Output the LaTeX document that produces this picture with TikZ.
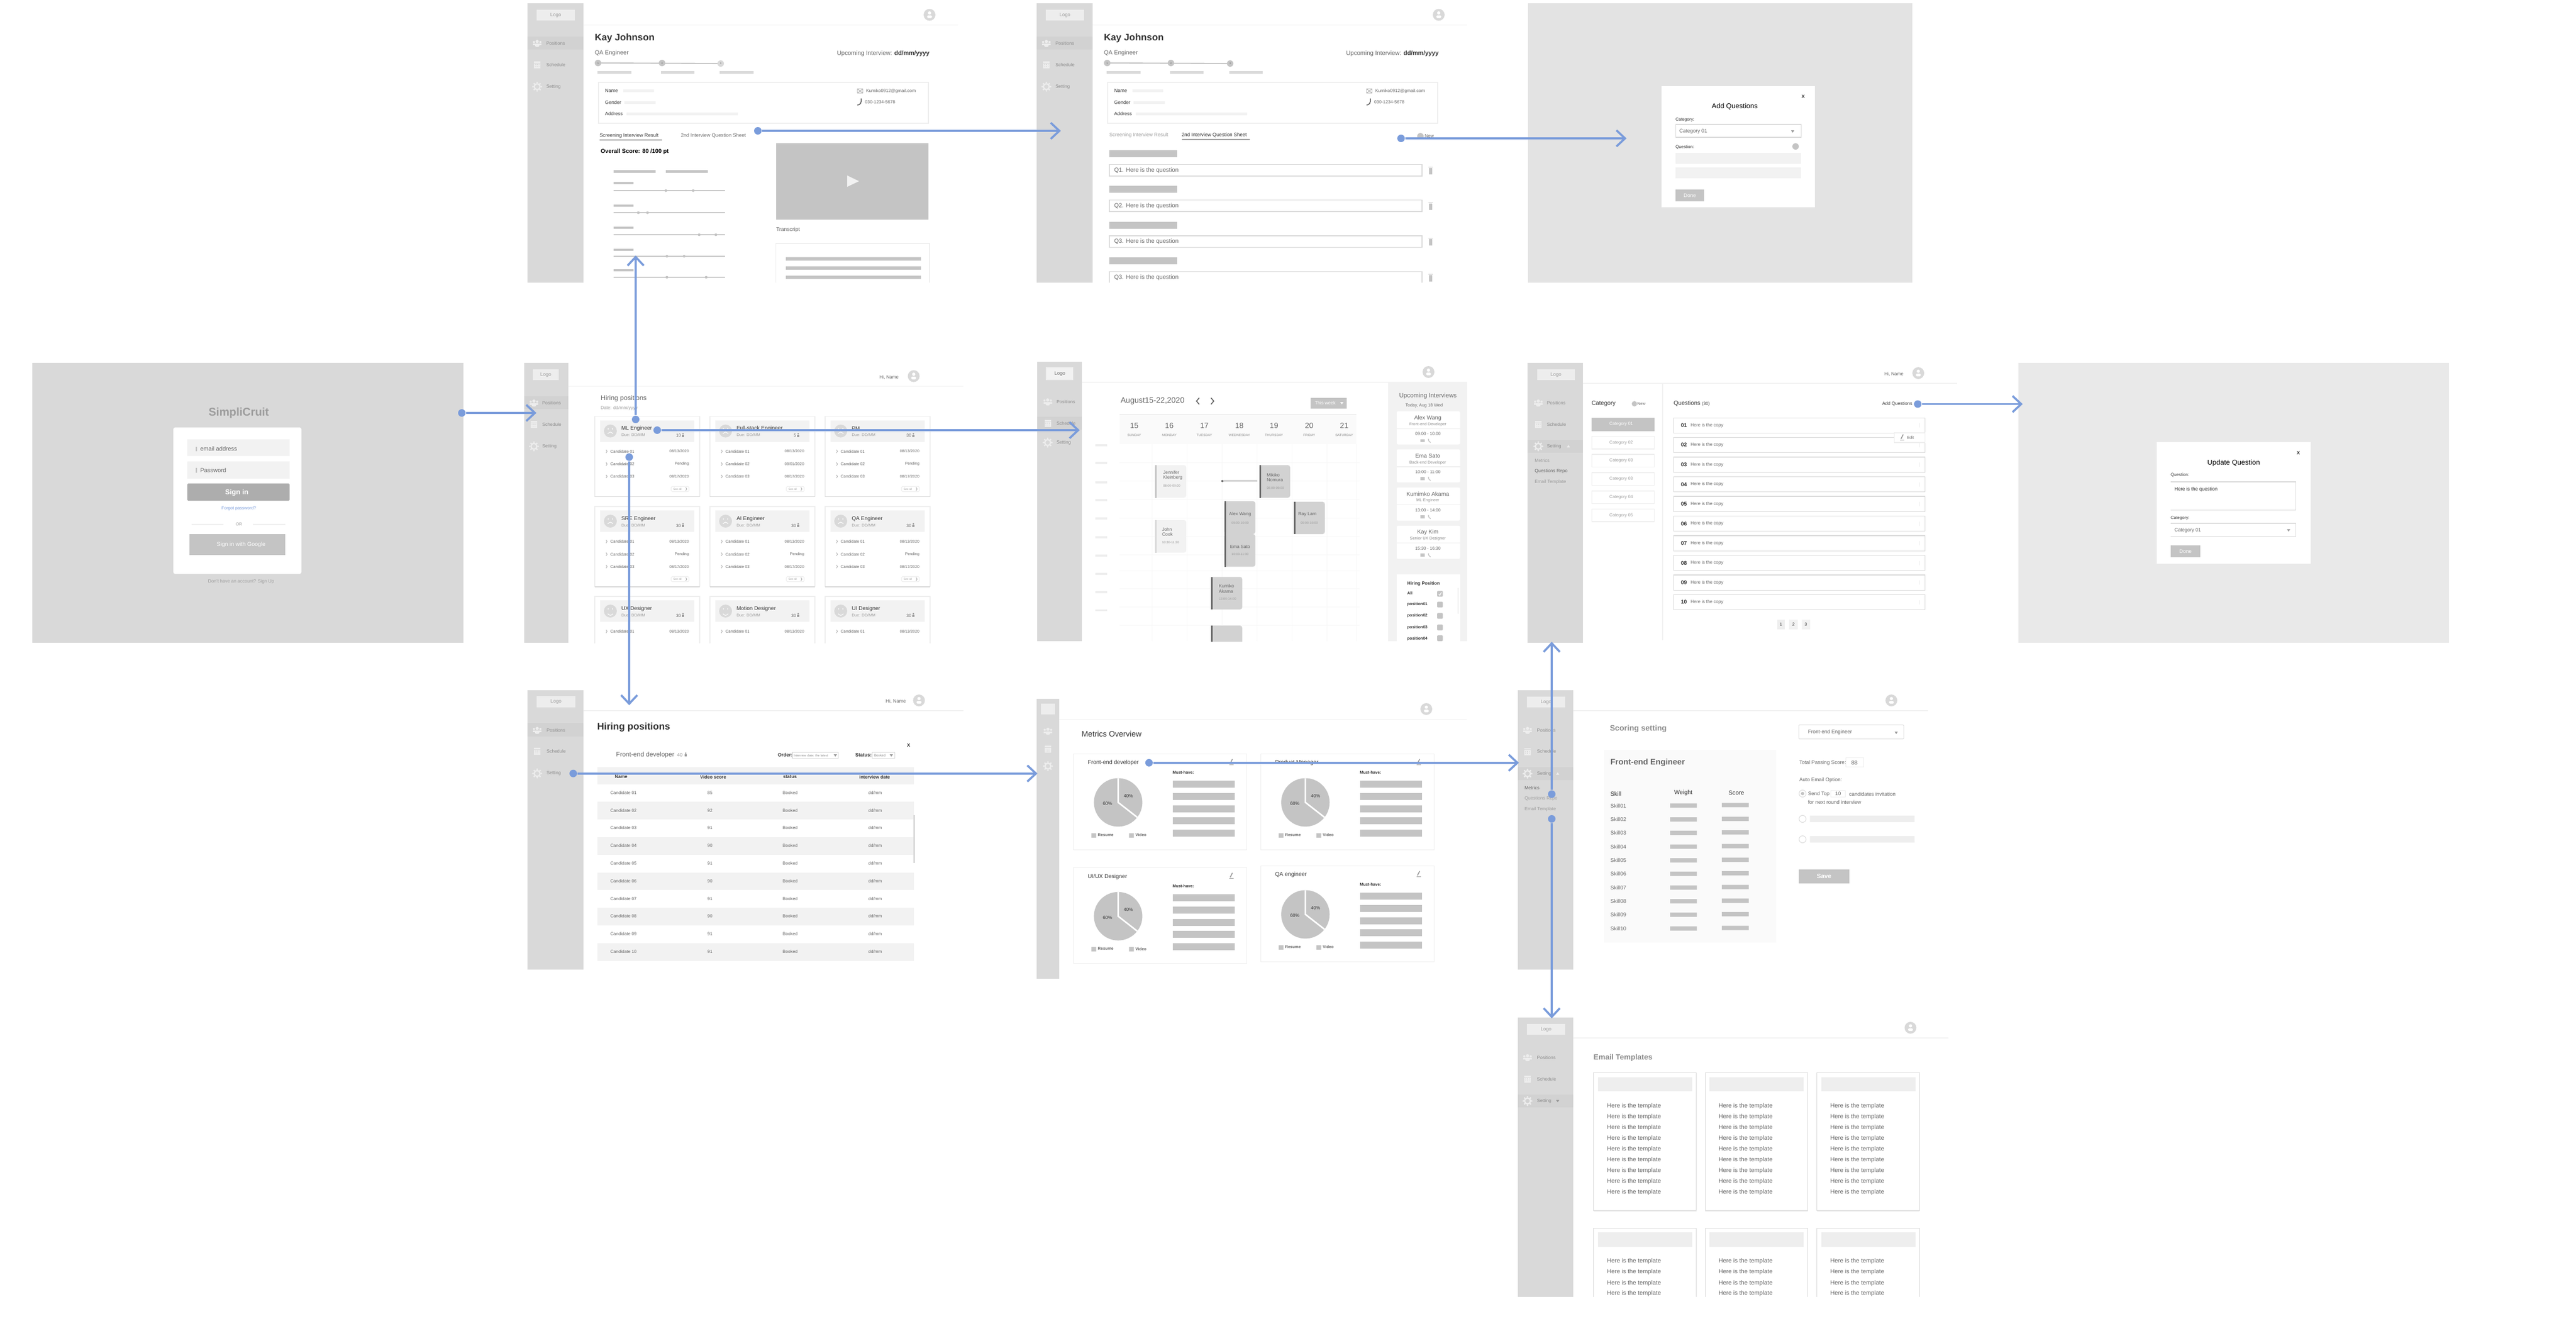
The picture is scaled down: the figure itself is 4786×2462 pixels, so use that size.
\documentclass[tikz,border=0pt]{standalone}
\usepackage{fontspec}
\setmainfont{Liberation Sans}
\usetikzlibrary{arrows.meta}

\definecolor{linkcol}{HTML}{7A9CDB}
\definecolor{sidecol}{HTML}{D9D9D9}
\definecolor{hicol}{HTML}{D2D2D2}
\definecolor{barcol}{HTML}{C4C4C4}
\definecolor{softcol}{HTML}{F2F2F2}
\definecolor{linecol}{HTML}{EEEEEE}
\definecolor{iconcol}{HTML}{EDEDED}
\definecolor{inkcol}{HTML}{333333}
\definecolor{dimcol}{HTML}{666666}
\definecolor{palecol}{HTML}{9C9C9C}
\definecolor{menucol}{HTML}{8C8C8C}

\newcounter{tx}
\newcommand{\fs}[1]{\pgfmathsetmacro{\fsval}{#1*0.2845}\fontsize{\fsval}{\fsval}\selectfont}
\newcommand{\lbl}[3][]{\stepcounter{tx}\node[txt_style,#1] (t\arabic{tx}) at (#2) {#3};}
\newcommand{\sidebar}[4]{\fill[side_style] (#1,#2) rectangle (#3,#4);}
\newcommand{\logobox}[5]{\fill[logo_style] (#1,#2) rectangle (#3,#4);
	\lbl[fz=9,mid_style,text=palecol]{{(#1+#3)/2},{(#2+#4)/2}}{#5}}
\newcommand{\avatar}[2]{\fill[fill=sidecol] (#1,#2) circle (11);
	\fill[white] (#1,#2-3.5) circle (3);
	\fill[white,rounded corners=.5pt] (#1-4.5,#2+1) rectangle (#1+4.5,#2+6);}
\newcommand{\iconpeople}[2]{\fill[icon_style] (#1,#2-3) circle (3) (#1-6,#2-2) circle (2) (#1+6,#2-2) circle (2);
	\fill[icon_style,rounded corners=.5pt] (#1-4,#2+1) rectangle (#1+4,#2+7);
	\fill[icon_style] (#1-8,#2+1) rectangle (#1+8,#2+4);}
\newcommand{\iconcal}[2]{\fill[icon_style] (#1-6,#2-6) rectangle (#1+6,#2+7);
	\foreach \pa in {-3.5,0,3.5} \foreach \pb in {0,3.5} \fill[side_style] (#1+\pa-.9,#2+\pb-.9) rectangle (#1+\pa+.9,#2+\pb+.9);
	\fill[side_style] (#1-6,#2-3.5) rectangle (#1+6,#2-2.6);}
\newcommand{\icongear}[2]{\draw[icon_style,draw=iconcol,fill=none,line width=.7pt] (#1,#2) circle (5.5);
	\foreach \pa in {0,45,...,315} \fill[icon_style] (#1,#2) ++(\pa:7.8) circle (1.7);}
\newcommand{\menuitems}[5]{\iconpeople{#1}{#3}\iconcal{#1}{#4}\icongear{#1}{#5}
	\lbl[fz=8.5,text=menucol]{#2,#3}{Positions}
	\lbl[fz=8.5,text=menucol]{#2,#4}{Schedule}
	\lbl[fz=8.5,text=menucol]{#2,#5}{Setting}}
\newcommand{\tridown}[2]{\fill[tri_style] (#1-3,#2-2) -- (#1+3,#2-2) -- (#1,#2+2.5) -- cycle;}
\newcommand{\triup}[2]{\fill[icon_style] (#1-3,#2+2) -- (#1+3,#2+2) -- (#1,#2-2.5) -- cycle;}
\newcommand{\chev}[2]{\draw[chev_style] (#1-1,#2-3) -- (#1+1,#2) -- (#1-1,#2+3);}
\newcommand{\pencil}[2]{\draw[pencil_style] (#1-2,#2+3) -- (#1+2,#2-5);
	\draw[chev_style] (#1-4,#2+5) -- (#1+4,#2+5);}
\newcommand{\trash}[2]{\fill[tri_style,fill=barcol] (#1-3,#2-5) rectangle (#1+3,#2+7);
	\fill[tri_style,fill=barcol] (#1-4,#2-7) rectangle (#1+4,#2-6);}
\newcommand{\person}[2]{\fill[fill=palecol] (#1,#2-3) circle (1.6);
	\fill[fill=palecol] (#1-2,#2-1) rectangle (#1+2,#2+3);}
% Kay Johnson screen, drawn at the place of the first one
\newcommand{\profile}{
	\sidebar{980}{6}{1084}{525}
	\logobox{997}{18}{1068}{38}{Logo}
	\fill[hi_style] (980,68) rectangle (1084,92);
	\menuitems{998}{1015}{80}{120}{161}
	\draw[head_style] (1084,46.5) -- (1780,46.5);
	\avatar{1727}{27.5}
	\lbl[fb=17.7,text=inkcol]{1105,71}{Kay Johnson}
	\lbl[fz=11,text=dimcol]{1105,99}{QA Engineer}
	\lbl[fz=11.3,right_style,text=dimcol]{1727,100}{Upcoming Interview: \textcolor{inkcol}{\bfseries dd/mm/yyyy}}
	\draw[box_style] (1112,153) rectangle (1725,229);
	\lbl[fz=9,text=inkcol]{1124,168}{Name}
	\lbl[fz=9,text=inkcol]{1124,190}{Gender}
	\lbl[fz=9,text=inkcol]{1124,211}{Address}
	\fill[soft_style] (1158,166) rectangle (1215,171) (1160,188) rectangle (1218,193) (1164,209) rectangle (1371,214);
	\draw[chev_style,fill=none] (1593,165) rectangle (1603,173) (1593,165) -- (1603,173) (1603,165) -- (1593,173);
	\lbl[fz=8.3,text=dimcol]{1609,169}{Kumiko0912@gmail.com}
	\draw[pencil_style,draw=dimcol] (1600,183) .. controls (1601,191) and (1598,195) .. (1593,195);
	\lbl[fz=8.3,text=dimcol]{1607,190}{030-1234-5678}
}
% position card, the head and its first row
\newcommand{\poscard}[5]{
	\begin{scope}[shift={(#1,#2)}]
		\draw[box_style,fill=white] (0,0) rectangle (195,148.8);
		\draw[shade_style] (0,148.8) -- (195,148.8);
		\fill[soft_style] (10,7.4) rectangle (185,47.4);
		\fill[fill=sidecol] (29,27) circle (12);
		\fill[white] (25,23) circle (1.2) (33,23) circle (1.2);
		\draw[white,line width=.3pt] (24,32) .. controls (29,#5) .. (34,32);
		\lbl[fz=10,text=inkcol]{49.5,22.4}{#3}
		\lbl[fz=7.5,text=palecol]{49.5,34.4}{Due: DD/MM}
		\lbl[fz=8,right_style,text=dimcol]{160,35.4}{#4}
		\person{164}{35}
		\chev{22}{64.8}
		\lbl[fz=7.5,text=dimcol]{29,64.8}{Candidate 01}
		\lbl[fz=7.2,right_style,text=dimcol]{175,64.8}{08/13/2020}
	\end{scope}
}
\newcommand{\cardrows}[4]{
	\begin{scope}[shift={(#1,#2)}]
		\chev{22}{88.4}
		\lbl[fz=7.5,text=dimcol]{29,88.4}{Candidate 02}
		\lbl[fz=7.2,right_style,text=dimcol]{175,88.4}{#3}
		\chev{22}{111.4}
		\lbl[fz=7.5,text=dimcol]{29,111.4}{Candidate 03}
		\lbl[fz=7.2,right_style,text=dimcol]{175,111.4}{#4}
		\draw[box_style,fill=white,rounded corners=.5pt] (142,130) rectangle (175,139.4);
		\lbl[fz=5,text=palecol]{146,134.7}{See all}
		\chev{170}{134.7}
	\end{scope}
}
\newcommand{\metric}[3]{
	\begin{scope}[shift={(#1,#2)}]
		\draw[box_style] (0,0) rectangle (322,178.5);
		\lbl[fz=10.5,text=inkcol]{26.4,17}{#3}
		\pencil{293}{15}
		\lbl[fb=7.5,text=inkcol]{184,34.6}{Must-have:}
		\foreach \pa in {50,72.5,95.7,118,141} \fill[bar_style] (184,\pa) rectangle (299,\pa+13);
		\fill[bar_style] (82.7,90.4) circle (45);
		\draw[white,line width=.8pt] (82.7,45.4) -- (82.7,90.4) -- (118.2,118.1);
		\lbl[fz=8.5,mid_style,text=inkcol]{101.6,78.6}{40\%}
		\lbl[fz=8.5,mid_style,text=inkcol]{63,93}{60\%}
		\fill[bar_style] (33,147.5) rectangle (42,156) (103,147.5) rectangle (112,156);
		\lbl[fb=7.5,text=dimcol]{45,151}{Resume}
		\lbl[fb=7.5,text=dimcol]{115,151}{Video}
	\end{scope}
}

\begin{document}
\begin{tikzpicture}[x=0.01cm, y=-0.01cm,
		txt_style/.style={anchor=west,inner sep=0pt,outer sep=0pt},
		mid_style/.style={anchor=center},
		right_style/.style={anchor=east},
		fz/.style={font=\fs{#1}},
		fb/.style={font=\fs{#1}\bfseries},
		side_style/.style={fill=sidecol},
		hi_style/.style={fill=hicol},
		logo_style/.style={fill=iconcol},
		icon_style/.style={fill=iconcol},
		bar_style/.style={fill=barcol},
		soft_style/.style={fill=softcol},
		tri_style/.style={fill=palecol},
		box_style/.style={draw=linecol,line width=.3pt},
		row_style/.style={draw=black!15,line width=.3pt},
		grid_style/.style={draw=black!3,line width=.2pt},
		shade_style/.style={draw=sidecol,line width=.5pt},
		head_style/.style={draw=softcol,line width=.4pt},
		chev_style/.style={draw=palecol,line width=.2pt},
		pencil_style/.style={draw=palecol,line width=.5pt},
		dot_style/.style={circle,fill=linkcol,inner sep=0pt,minimum size=.14cm},
		edge_style/.style={draw=linkcol,line width=1.1pt,-{Straight Barb[length=.16cm,width=.3cm]}}]
	\useasboundingbox (0,0) rectangle (4786,2462);

	% screen with the interview result
	\profile
	\draw[draw=barcol,line width=.6pt] (1111,117) -- (1339,118);
	\fill[fill=barcol] (1111,117) circle (6) (1230,117) circle (6);
	\fill[fill=sidecol] (1339,118) circle (6);
	\foreach \pn/\px in {1/1111,2/1230,3/1339} {\lbl[fz=4.5,mid_style,text=dimcol]{\px,117.5}{\pn}}
	\fill[fill=sidecol] (1110,132) rectangle (1173,137) (1228,132) rectangle (1290,137) (1337,132) rectangle (1400,137);
	\lbl[fz=9.2,text=inkcol]{1114,252}{Screening Interview Result}
	\draw[chev_style,line width=.4pt] (1114,260) -- (1230,260);
	\lbl[fz=9.2,text=dimcol]{1265,252}{2nd Interview Question Sheet}
	\lbl[fb=10.8,text=black]{1116,282}{Overall Score: 80 /100 pt}
	\fill[bar_style] (1140,316) rectangle (1218,321) (1237,316) rectangle (1315,321);
	\foreach \pb/\pl/\pc/\pd in {340/354/1237/1288,382/395/1186/1203,423/436/1299/1330,464/476/1239/1271,502/515/1239/1312} {
		\fill[bar_style] (1140,\pb-2) rectangle (1177,\pb+2);
		\draw[draw=barcol,line width=.4pt] (1140,\pl) -- (1347,\pl);
		\fill[bar_style] (\pc,\pl) circle (2.5) (\pd,\pl) circle (2.5);
	}
	\fill[bar_style] (1442,265.5) rectangle (1725,408);
	\fill[fill=softcol] (1574,326) -- (1596,336.5) -- (1574,347) -- cycle;
	\lbl[fz=10,text=dimcol]{1442,427}{Transcript}
	\draw[box_style] (1441.5,525) -- (1441.5,452) -- (1727,452) -- (1727,525);
	\fill[bar_style] (1460,477.6) rectangle (1711,484) (1460,494.5) rectangle (1711,501) (1460,512) rectangle (1711,518);

	% screen with the question sheet
	\begin{scope}[shift={(946,0)}]
		\profile
	\end{scope}
	\draw[draw=barcol,line width=.6pt] (2057,117) -- (2285.5,118);
	\fill[fill=barcol] (2057,117) circle (6) (2175.5,117) circle (6) (2285.5,118) circle (6);
	\foreach \pn/\px in {1/2057,2/2175.5,3/2285.5} {\lbl[fz=4.5,mid_style,text=dimcol]{\px,117.5}{\pn}}
	\fill[fill=sidecol] (2056,132) rectangle (2119,137) (2174,132) rectangle (2236,137) (2284,132) rectangle (2346,137);
	\lbl[fz=9.2,text=palecol]{2061,251}{Screening Interview Result}
	\lbl[fz=9.2,text=inkcol]{2195.6,251}{2nd Interview Question Sheet}
	\draw[chev_style,line width=.4pt] (2195.6,259) -- (2322,259);
	\fill[fill=barcol] (2639,253) circle (6);
	\lbl[fz=8.5,text=dimcol]{2647,253}{New}
	\foreach \pb/\pq/\pn in {279/305.5/Q1,345/371.5/Q2,411.5/438/Q3} {
		\fill[bar_style] (2061,\pb) rectangle (2187,\pb+13);
		\draw[box_style,draw=sidecol] (2061,\pq) rectangle (2642,\pq+21.5);
		\lbl[fz=11,text=dimcol]{2070,\pq+11}{\pn. Here is the question}
		\trash{2658}{\pq+11}
	}
	\fill[bar_style] (2061,478) rectangle (2187,491);
	\draw[box_style,draw=sidecol] (2061,525) -- (2061,504.5) -- (2642,504.5) -- (2642,525);
	\lbl[fz=11,text=dimcol]{2070,516}{Q3. Here is the question}
	\trash{2658}{516}

	% add questions dialog
	\fill[fill=softcol!40!sidecol] (2838.6,6) rectangle (3553,525);
	\fill[white] (3086.5,159.5) rectangle (3371.6,385);
	\lbl[fb=9,mid_style,text=inkcol]{3350,179.5}{X}
	\lbl[fz=13,mid_style,text=black]{3223,198}{Add Questions}
	\lbl[fz=8,text=inkcol]{3113,222.5}{Category:}
	\draw[row_style] (3113,231) rectangle (3346,255);
	\lbl[fz=9.5,text=dimcol]{3120,244}{Category 01}
	\tridown{3330.6}{244}
	\lbl[fz=8,text=inkcol]{3113,273}{Question:}
	\fill[fill=barcol] (3336,272) circle (6);
	\fill[soft_style] (3113,284) rectangle (3346,304.4) (3113,311) rectangle (3346,331);
	\fill[bar_style] (3113,352) rectangle (3166,374);
	\lbl[fz=9.5,mid_style,text=white]{3139.5,363}{Done}

	% login
	\fill[side_style] (60,674) rectangle (860.5,1194);
	\lbl[fb=21,mid_style,text=palecol]{443.7,767.5}{SimpliCruit}
	\fill[white,rounded corners=1pt] (322,794) rectangle (560,1066);
	\fill[soft_style] (348,816) rectangle (538,847) (348,857) rectangle (538,889);
	\fill[fill=barcol] (363.6,830) rectangle (366,838) (363.6,869) rectangle (366,878);
	\lbl[fz=11,text=dimcol]{372,834}{email address}
	\lbl[fz=11,text=dimcol]{372,873.5}{Password}
	\fill[fill=black!32,rounded corners=.5pt] (348,898) rectangle (538,930);
	\lbl[fb=13,mid_style,text=white]{440,915}{Sign in}
	\lbl[fz=8,mid_style,text=linkcol]{443.7,944.6}{Forgot password?}
	\fill[soft_style,fill=linecol] (356,973) rectangle (415,975) (470,973) rectangle (530,975);
	\lbl[fz=8,mid_style,text=palecol]{444,974}{OR}
	\fill[bar_style] (351.5,992) rectangle (530,1031);
	\lbl[fz=10.5,mid_style,text=white]{448,1012}{Sign in with Google}
	\lbl[fz=8.5,mid_style,text=palecol]{448,1080.5}{Don't have an account? Sign Up}

	% positions overview
	\sidebar{973.5}{674}{1056}{1194}
	\logobox{990}{686}{1038}{706}{Logo}
	\fill[hi_style] (973.5,736) rectangle (1056,760);
	\menuitems{992}{1007.5}{748}{788}{829}
	\draw[head_style] (1056,717.5) -- (1790,717.5);
	\lbl[fz=8.5,text=dimcol]{1634,700.6}{Hi, Name}
	\avatar{1697.6}{698.6}
	\lbl[fz=12.5,text=dimcol]{1116,740}{Hiring positions}
	\lbl[fz=8.5,text=palecol]{1116,758}{Date: dd/mm/yyyy}
	\poscard{1105}{773.6}{ML Engineer}{10}{28}
	\poscard{1319}{773.6}{Full-stack Engineer}{5}{28}
	\poscard{1533}{773.6}{PM}{30}{28}
	\cardrows{1105}{773.6}{Pending}{08/17/2020}
	\cardrows{1319}{773.6}{09/01/2020}{08/17/2020}
	\cardrows{1533}{773.6}{Pending}{08/17/2020}
	\poscard{1105}{941}{SRE Engineer}{30}{28}
	\poscard{1319}{941}{AI Engineer}{30}{28}
	\poscard{1533}{941}{QA Engineer}{30}{28}
	\foreach \px in {1105,1319,1533} {\cardrows{\px}{941}{Pending}{08/17/2020}}
	\begin{scope}
		\clip (1100,1100) rectangle (1735,1194);
		\poscard{1105}{1108}{UX Designer}{30}{36}
		\poscard{1319}{1108}{Motion Designer}{30}{36}
		\poscard{1533}{1108}{UI Designer}{30}{36}
	\end{scope}

	% schedule
	\sidebar{1927}{672}{2010}{1191}
	\draw[box_style,fill=softcol] (1944,683) rectangle (1993.6,705);
	\lbl[fz=9,mid_style,text=dimcol]{1969,694}{Logo}
	\fill[hi_style] (1927,774) rectangle (2010,798);
	\menuitems{1946.5}{1963}{746}{786}{822}
	\draw[head_style] (2010,710) -- (2726,710);
	\avatar{2654}{691}
	\fill[soft_style] (2579,710) rectangle (2726,1191);
	\lbl[fz=14.5,text=dimcol]{2082,745}{August15-22,2020}
	\draw[pencil_style,draw=dimcol] (2228,739) -- (2223,745) -- (2228,751) (2250,739) -- (2255,745) -- (2250,751);
	\fill[bar_style] (2435,738.5) rectangle (2502,759);
	\lbl[fz=8.5,text=white]{2443,748.5}{This week}
	\fill[white] (2490,747) -- (2496,747) -- (2493,751) -- cycle;
	\fill[fill=black!2] (2080,770) rectangle (2520,825);
	\draw[box_style] (2080,770) -- (2520,770);
	\foreach \pd/\pn/\px in {15/SUNDAY/2107.4,16/MONDAY/2172.5,17/TUESDAY/2237.6,18/WEDNESDAY/2302.7,19/THURSDAY/2367,20/FRIDAY/2432.4,21/SATURDAY/2497.5} {
		\lbl[fz=14,mid_style,text=dimcol]{\px,791}{\pd}
		\lbl[fz=6.2,mid_style,text=menucol]{\px,808}{\pn}
	}
	\foreach \py in {827,860,896,929,963,998,1032,1066,1100,1133.5} \fill[fill=linecol] (2035,\py-1.7) rectangle (2056.6,\py+1.7);
	\foreach \py in {859,893.5,927,962,996,1030,1060,1093.5,1127,1161} \draw[grid_style] (2080,\py) -- (2526,\py);
	\foreach \px in {2140.7,2205,2270,2335.6,2400.7,2465,2520} \draw[grid_style] (\px,825) -- (\px,1191);
	\foreach \pa/\pb/\pc/\pd/\pf/\pg in {2145.5/864/2204/924.5/softcol/barcol,2145.5/966/2204/1026.7/softcol/sidecol,2340/864/2397/924.5/hicol/dimcol,2274.7/931/2332.4/992/hicol/dimcol,2274.7/992/2332.4/1052.6/hicol/dimcol,2404/932/2461.5/992/hicol/dimcol,2250/1071.5/2308/1132/hicol/dimcol} {
		\fill[fill=\pf,rounded corners=1.2pt] (\pa,\pb) rectangle (\pc,\pd);
		\fill[fill=\pg] (\pa,\pb) rectangle (\pa+3,\pd);
	}
	\begin{scope}
		\clip (2240,1150) rectangle (2320,1191);
		\fill[fill=hicol,rounded corners=1.2pt] (2250,1162) rectangle (2308,1230);
		\fill[fill=dimcol] (2250,1162) rectangle (2253,1230);
	\end{scope}
	\foreach \px/\py/\pn in {2161/877.6/Jennifer,2161/887/Kleinberg,2353.5/882/Mikiko,2353.5/892/Nomura,2159/983/John,2159/992.6/Cook,2264.6/1088.7/Kumiko,2264.6/1098/Akama} {\lbl[fz=8.5,text=dimcol]{\px,\py}{\pn}}
	\foreach \px/\py/\pn in {2161/902/08:00-09:00,2353.5/906/08:00-09:00,2159/1007/10:30-11:30,2264.6/1112.5/13:00-14:00} {\lbl[fz=6,text=palecol]{\px,\py}{\pn}}
	\lbl[fz=8.5,mid_style,text=dimcol]{2304,955.5}{Alex Wang}
	\lbl[fz=6,mid_style,text=palecol]{2304,971.6}{09:00-10:00}
	\lbl[fz=8.5,mid_style,text=dimcol]{2304,1016}{Ema Sato}
	\lbl[fz=6,mid_style,text=palecol]{2304,1029}{10:00-11:00}
	\lbl[fz=8.5,mid_style,text=dimcol]{2429,955.5}{Ray Lam}
	\lbl[fz=6,mid_style,text=palecol]{2432.4,971.6}{09:00-10:00}
	\fill[fill=dimcol] (2271,893.5) circle (2);
	\draw[draw=dimcol,line width=.2pt] (2271,893.5) -- (2335.6,893.5);
	\lbl[fz=11.5,mid_style,text=dimcol]{2653,735.5}{Upcoming Interviews}
	\lbl[fz=8,mid_style,text=dimcol]{2646,753}{Today, Aug 18 Wed}
	\foreach \py/\pn/\pr/\pt in {764/Alex Wang/Front-end Developer/09:00 - 10:00,834.6/Ema Sato/Back-end Developer/10:00 - 11:00,905.5/Kumimko Akama/ML Engineer/13:00 - 14:00,976.5/Kay Kim/Senior UX Designer/15:30 - 16:30} {
		\fill[white,rounded corners=.7pt] (2595,\py) rectangle (2712.5,\py+61.5);
		\lbl[fz=10.5,mid_style,text=dimcol]{2652.7,\py+12.4}{\pn}
		\lbl[fz=7.5,mid_style,text=menucol]{2652.7,\py+24.5}{\pr}
		\draw[box_style] (2595,\py+32.4) -- (2712.5,\py+32.4);
		\lbl[fz=8,mid_style,text=dimcol]{2653,\py+42}{\pt}
		\fill[fill=barcol] (2639,\py+51.5) rectangle (2646.5,\py+57);
		\draw[draw=barcol,line width=.4pt] (2654,\py+51) .. controls (2654,\py+55) .. (2658,\py+58);
	}
	\fill[white] (2595,1067.4) rectangle (2712.5,1191);
	\lbl[fb=8.5,text=inkcol]{2614.6,1084}{Hiring Position}
	\foreach \py/\pn in {1102/All,1123/position01,1144/position02,1165.5/position03,1186.5/position04} {
		\lbl[fb=7.5,text=inkcol]{2614.6,\py}{\pn}
	}
	\foreach \py in {1103,1123,1144,1165.5,1185.5} \fill[bar_style,rounded corners=.4pt] (2670,\py-5.4) rectangle (2680.7,\py+5.4);
	\draw[draw=white,line width=.3pt] (2673,1103) -- (2675,1106) -- (2678,1100);
	\fill[fill=linecol] (2708,1092) rectangle (2710,1140);

	% questions repository
	\sidebar{2838}{674}{2941}{1194}
	\logobox{2856}{686}{2925.5}{706}{Logo}
	\fill[hi_style] (2838,817) rectangle (2941,841);
	\menuitems{2858}{2874}{748}{788}{829}
	\triup{2914}{829}
	\lbl[fz=8.5,text=palecol]{2851.4,855}{Metrics}
	\lbl[fz=8.5,text=dimcol]{2851.4,875}{Questions Repo}
	\lbl[fz=8.5,text=palecol]{2851.4,895}{Email Template}
	\draw[head_style] (2941,712) -- (3636,712);
	\lbl[fz=8.5,text=dimcol]{3501,695}{Hi, Name}
	\avatar{3564}{693}
	\draw[head_style] (3089,713) -- (3089,1188.6);
	\lbl[fz=11,text=inkcol]{2957,749.5}{Category}
	\fill[fill=barcol] (3036.6,750) circle (5);
	\lbl[fz=7.5,text=dimcol]{3042,750}{New}
	\fill[bar_style] (2957,776) rectangle (3073.6,800.5);
	\lbl[fz=8,mid_style,text=white]{3012,788}{Category 01}
	\foreach \py/\pn in {810.5/02,844/03,878/03,912/04,945.5/05} {
		\draw[box_style] (2957,\py) rectangle (3073.6,\py+23.5);
		\lbl[fz=8,mid_style,text=palecol]{3012,\py+12}{Category \pn}
	}
	\lbl[fz=11,text=inkcol]{3109.6,749.5}{Questions \fs{8}(30)}
	\lbl[fz=8.5,text=inkcol]{3497,750}{Add Questions}
	\foreach \py/\pn in {776.4/01,812.5/02,849/03,885.6/04,922/05,958.6/06,995/07,1031.6/08,1068/09,1104.5/10} {
		\draw[row_style] (3109.6,\py) rectangle (3576.5,\py+28.3);
		\lbl[fb=10,text=inkcol]{3123,\py+14}{\pn}
		\lbl[fz=8.4,text=dimcol]{3141,\py+14}{Here is the copy}
		\fill[fill=linecol] (3565.5,\py+10) rectangle (3566.5,\py+18);
	}
	\fill[white] (3519,804) rectangle (3576.5,822);
	\draw[box_style] (3519,804) rectangle (3576.5,822);
	\pencil{3534}{812}
	\lbl[fz=7.5,text=dimcol]{3543,813}{Edit}
	\fill[fill=linecol] (3301.5,1151) rectangle (3316,1169);
	\fill[soft_style] (3324,1151) rectangle (3340,1169) (3347.5,1151) rectangle (3363,1169);
	\foreach \pn/\px in {1/3308.7,2/3332,3/3355} {\lbl[fz=8,mid_style,text=inkcol]{\px,1160}{\pn}}

	% update question dialog
	\fill[fill=softcol!65!sidecol] (3750.4,674) rectangle (4549.5,1194);
	\fill[white] (4007,821) rectangle (4292.5,1047);
	\lbl[fb=9,mid_style,text=inkcol]{4270,841.5}{X}
	\lbl[fz=13,mid_style,text=black]{4150,860}{Update Question}
	\lbl[fz=8,text=inkcol]{4033,882.5}{Question:}
	\draw[row_style] (4033,895) -- (4265.5,895) -- (4265.5,947.5) -- (4033,947.5);
	\lbl[fz=9,text=inkcol]{4040,909.6}{Here is the question}
	\lbl[fz=8,text=inkcol]{4033,963}{Category:}
	\draw[row_style] (4033,972) -- (4265.5,972) -- (4265.5,996.5) -- (4033,996.5);
	\lbl[fz=9,text=dimcol]{4040,985.4}{Category 01}
	\tridown{4252}{985}
	\fill[bar_style] (4033,1013) rectangle (4088,1035);
	\lbl[fz=9.5,mid_style,text=white]{4060.5,1024}{Done}

	% candidates of one position
	\sidebar{980}{1282}{1084}{1801}
	\logobox{997}{1293}{1069}{1314}{Logo}
	\fill[hi_style] (980,1343) rectangle (1084,1368);
	\menuitems{998}{1015.6}{1356}{1395}{1436.7}
	\draw[head_style] (1084,1320) -- (1790,1320);
	\lbl[fz=9,text=dimcol]{1645.7,1303}{Hi, Name}
	\avatar{1707.4}{1301}
	\lbl[fb=17.8,text=inkcol]{1109.5,1350.6}{Hiring positions}
	\lbl[fz=12,text=dimcol]{1144.7,1402}{Front-end developer}
	\lbl[fz=9,text=menucol]{1258,1402}{40}
	\person{1274}{1402}
	\lbl[fb=9,text=inkcol]{1445,1402}{Order:}
	\draw[box_style,draw=sidecol] (1472,1397.4) rectangle (1557.5,1408.4);
	\lbl[fz=5.8,text=menucol]{1475,1403}{Interview date: the latest}
	\tridown{1552}{1403}
	\lbl[fb=9,text=inkcol]{1589,1402}{Status:}
	\draw[box_style,draw=sidecol] (1620.7,1397.4) rectangle (1662.6,1408.4);
	\lbl[fz=6.3,text=menucol]{1624,1403}{Booked}
	\tridown{1656}{1403}
	\lbl[fb=9,mid_style,text=inkcol]{1688,1384}{X}
	\fill[soft_style] (1109.5,1425) rectangle (1697.7,1456.6);
	\foreach \pb in {1489,1555,1620.5,1686,1752} \fill[soft_style] (1109.5,\pb) rectangle (1697.7,\pb+32.5);
	\lbl[fb=8.5,mid_style,text=inkcol]{1154,1443}{Name}
	\lbl[fb=8.5,mid_style,text=inkcol]{1325,1443}{Video score}
	\lbl[fb=8.5,mid_style,text=inkcol]{1467.7,1443}{status}
	\lbl[fb=8.5,mid_style,text=inkcol]{1625,1443}{interview date}
	\foreach \py/\pn/\ps in {1472.8/01/85,1505.5/02/92,1538/03/91,1571/04/90,1604/05/91,1636.7/06/90,1669.4/07/91,1702/08/90,1735/09/91,1768/10/91} {
		\lbl[fz=8.2,text=dimcol]{1134,\py}{Candidate \pn}
		\lbl[fz=8.2,mid_style,text=dimcol]{1319,\py}{\ps}
		\lbl[fz=8.2,mid_style,text=dimcol]{1468,\py}{Booked}
		\lbl[fz=8.2,mid_style,text=dimcol]{1626,\py}{dd/mm}
	}
	\fill[fill=sidecol] (1696.5,1513.5) rectangle (1700,1603);

	% metrics overview
	\sidebar{1926}{1298}{1968}{1817.5}
	\fill[logo_style] (1934,1307) rectangle (1960,1327);
	\iconpeople{1947}{1357.5}
	\iconcal{1947}{1391.4}
	\icongear{1947}{1423}
	\draw[head_style] (1968,1336.4) -- (2725,1336.4);
	\avatar{2650}{1317}
	\lbl[fz=14.5,text=inkcol]{2009.6,1363}{Metrics Overview}
	\metric{1994.7}{1400}{Front-end developer}
	\metric{2342.6}{1400}{Product Manager}
	\metric{1994.7}{1611.4}{UI/UX Designer}
	\metric{2342.6}{1608}{QA engineer}

	% scoring setting
	\sidebar{2820}{1282}{2923}{1801.4}
	\logobox{2837}{1294}{2907.6}{1314}{Logo}
	\fill[hi_style] (2820,1424.6) rectangle (2923,1449);
	\menuitems{2838}{2855.6}{1356}{1395.7}{1437}
	\triup{2894}{1437}
	\lbl[fz=8.5,text=dimcol]{2832.6,1463}{Metrics}
	\lbl[fz=8.5,text=palecol]{2832.6,1483}{Questions Repo}
	\lbl[fz=8.5,text=palecol]{2832.6,1503}{Email Template}
	\draw[head_style] (2923,1320) -- (3582,1320);
	\avatar{3514}{1301}
	\lbl[fb=14.5,text=menucol]{2991,1353.6}{Scoring setting}
	\draw[row_style,rounded corners=.4pt] (3342,1346.4) rectangle (3537,1372.5);
	\lbl[fz=9.5,text=dimcol]{3359,1360}{Front-end Engineer}
	\tridown{3523}{1361}
	\fill[fill=black!2] (2980,1393) rectangle (3299.5,1751);
	\lbl[fb=15,text=dimcol]{2992,1417}{Front-end Engineer}
	\lbl[fz=11,text=inkcol]{2992,1475}{Skill}
	\lbl[fz=11,mid_style,text=inkcol]{3127.5,1472.5}{Weight}
	\lbl[fz=11,mid_style,text=inkcol]{3226,1472.5}{Score}
	\foreach \py/\pn in {1496.4/01,1522/02,1547/03,1572.5/04,1598/05,1623/06,1648.6/07,1674/08,1699/09,1724.6/10} {
		\lbl[fz=10,text=dimcol]{2992,\py}{Skill\pn}
		\fill[bar_style] (3103,\py-4) rectangle (3152.5,\py+4) (3199,\py-5) rectangle (3249,\py+3);
	}
	\lbl[fz=9.5,text=dimcol]{3343,1417}{Total Passing Score:}
	\draw[box_style] (3429.6,1407.5) rectangle (3462,1424.6);
	\lbl[fz=10.5,mid_style,text=dimcol]{3445.4,1416.4}{88}
	\lbl[fz=9.5,text=dimcol]{3343,1449}{Auto Email Option:}
	\draw[box_style,draw=sidecol] (3349,1474) circle (6.5);
	\fill[fill=barcol] (3349,1474) circle (3.2);
	\lbl[fz=9.5,text=dimcol]{3359,1474.6}{Send Top}
	\draw[box_style] (3401.5,1468) rectangle (3428.6,1480);
	\lbl[fz=9.5,mid_style,text=dimcol]{3415,1474.6}{10}
	\lbl[fz=9.5,text=dimcol]{3435.7,1474.6}{candidates invitation}
	\lbl[fz=9.5,text=dimcol]{3359,1489.6}{for next round interview}
	\draw[box_style,draw=sidecol] (3349,1521) circle (6.5) (3349,1559) circle (6.5);
	\fill[fill=linecol] (3362.7,1515) rectangle (3557,1527) (3362.7,1553) rectangle (3557,1565);
	\fill[bar_style] (3342,1615) rectangle (3436,1640.7);
	\lbl[fb=11.5,mid_style,text=white]{3389,1628}{Save}

	% email templates
	\sidebar{2820}{1890}{2923}{2409}
	\logobox{2837}{1902}{2907.6}{1921.7}{Logo}
	\fill[hi_style] (2820,2033) rectangle (2923,2057);
	\menuitems{2838}{2855.6}{1964}{2004}{2045}
	\tridown{2894}{2045}
	\draw[head_style] (2923,1928) -- (3620,1928);
	\avatar{3549.5}{1909}
	\lbl[fb=14,text=menucol]{2960.7,1964.4}{Email Templates}
	\foreach \px in {2960.7,3168,3375.5} {
		\draw[box_style,draw=sidecol] (\px,1992.7) rectangle (\px+190.8,2248);
		\draw[shade_style,draw=softcol] (\px,2250) -- (\px+190.8,2250);
		\fill[fill=linecol] (\px+8,2000.6) rectangle (\px+183,2027.4);
		\foreach \py in {2054.2,2074.3,2094.4,2114.5,2134.6,2154.7,2174.8,2194.9,2215} {\lbl[fz=11.2,text=dimcol]{\px+25,\py}{Here is the template}}
		\draw[box_style,draw=sidecol] (\px,2409) -- (\px,2281.5) -- (\px+190.8,2281.5) -- (\px+190.8,2409);
		\fill[fill=linecol] (\px+8,2289.4) rectangle (\px+183,2316);
		\foreach \py in {2343,2363,2383.4,2403} {\lbl[fz=11.2,text=dimcol]{\px+25,\py}{Here is the template}}
	}

	% links between the screens
	\node[dot_style] (d1) at (858,767) {};
	\coordinate (a1) at (996.6,767);
	\node[dot_style] (d2) at (1181,779) {};
	\coordinate (a2) at (1181,474.5);
	\node[dot_style] (d3) at (1221,799) {};
	\coordinate (a3) at (2006,799);
	\node[dot_style] (d4) at (1169,849) {};
	\coordinate (a4) at (1169,1310);
	\node[dot_style] (d5) at (1408,243) {};
	\coordinate (a5) at (1971,243);
	\node[dot_style] (d6) at (2603,257) {};
	\coordinate (a6) at (3022,257);
	\node[dot_style] (d7) at (3563,750.5) {};
	\coordinate (a7) at (3758,750.5);
	\node[dot_style] (d8) at (1065,1436.7) {};
	\coordinate (a8) at (1927.5,1436.7);
	\node[dot_style] (d9) at (2134.8,1416.8) {};
	\coordinate (a9) at (2822,1416.8);
	\node[dot_style] (d10) at (2883,1475) {};
	\coordinate (a10) at (2883,1192);
	\node[dot_style] (d11) at (2883,1521) {};
	\coordinate (a11) at (2883,1891.5);
	\draw[edge_style] (d1) -- (a1);
	\draw[edge_style] (d2) -- (a2);
	\draw[edge_style] (d3) -- (a3);
	\draw[edge_style] (d4) -- (a4);
	\draw[edge_style] (d5) -- (a5);
	\draw[edge_style] (d6) -- (a6);
	\draw[edge_style] (d7) -- (a7);
	\draw[edge_style] (d8) -- (a8);
	\draw[edge_style] (d9) -- (a9);
	\draw[edge_style] (d10) -- (a10);
	\draw[edge_style] (d11) -- (a11);
\end{tikzpicture}
\end{document}
